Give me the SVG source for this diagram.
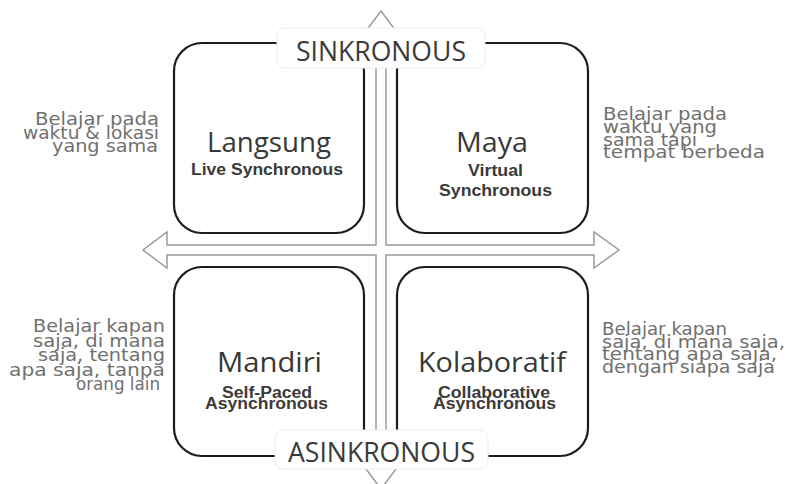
<svg xmlns="http://www.w3.org/2000/svg" width="786" height="484" viewBox="0 0 786 484">
<style>
.box{fill:#fff;stroke:#1c1c1c;stroke-width:2.2}
.lbl{fill:#fff;stroke:#ececec;stroke-width:1}
.axis{font-family:"Open Sans","DejaVu Sans",sans-serif;font-size:28px;fill:#3a3a3a;text-anchor:middle}
.title{font-family:"Open Sans","DejaVu Sans",sans-serif;font-size:28px;fill:#383838;text-anchor:middle}
.sub{font-family:"Liberation Sans",Arial,sans-serif;font-weight:bold;font-size:16px;fill:#3a3a3a;text-anchor:middle}
.side{font-family:"DejaVu Sans","Noto Sans",sans-serif;font-size:18px;fill:#707070}
.r{text-anchor:end}
.l{text-anchor:start}
.arrow{fill:#fff;stroke:#9a9a9a;stroke-width:1.5;stroke-linejoin:miter}
</style>
<rect width="786" height="484" fill="#fff"/>
<g id="connectors">
<path class="arrow" d="M381,11 L399,35 L386,35 L386,245 L594,245 L594,232 L619,250 L594,268 L594,255 L386,255 L386,465 L399,465 L381,489 L363,465 L376,465 L376,255 L167,255 L167,268 L143,250 L167,232 L167,245 L376,245 L376,35 L363,35 Z"/>
</g>
<g id="node-langsung">
<rect class="box" x="174" y="43" width="190" height="190" rx="28"/>
<text class="title" x="269" y="152" textLength="124" lengthAdjust="spacingAndGlyphs">Langsung</text>
<text class="sub" x="267" y="175" textLength="152" lengthAdjust="spacingAndGlyphs">Live Synchronous</text>
</g>
<g id="node-maya">
<rect class="box" x="397" y="43" width="191" height="190" rx="28"/>
<text class="title" x="492" y="152" textLength="72" lengthAdjust="spacingAndGlyphs">Maya</text>
<text class="sub" x="495.5" y="176" textLength="55" lengthAdjust="spacingAndGlyphs">Virtual</text>
<text class="sub" x="495.5" y="196" textLength="113" lengthAdjust="spacingAndGlyphs">Synchronous</text>
</g>
<g id="node-mandiri">
<rect class="box" x="174" y="267" width="190" height="189" rx="28"/>
<text class="title" x="269.5" y="372" textLength="105" lengthAdjust="spacingAndGlyphs">Mandiri</text>
<text class="sub" x="267" y="398" textLength="90" lengthAdjust="spacingAndGlyphs">Self-Paced</text>
<text class="sub" x="266.5" y="409" textLength="123" lengthAdjust="spacingAndGlyphs">Asynchronous</text>
</g>
<g id="node-kolaboratif">
<rect class="box" x="397" y="267" width="191" height="189" rx="28"/>
<text class="title" x="492" y="372" textLength="148" lengthAdjust="spacingAndGlyphs">Kolaboratif</text>
<text class="sub" x="494" y="398" textLength="112" lengthAdjust="spacingAndGlyphs">Collaborative</text>
<text class="sub" x="494.5" y="409" textLength="123" lengthAdjust="spacingAndGlyphs">Asynchronous</text>
</g>
<g id="label-sinkronous">
<rect class="lbl" x="277" y="28" width="208" height="40" rx="8"/>
<text class="axis" x="381" y="61" textLength="170" lengthAdjust="spacingAndGlyphs">SINKRONOUS</text>
</g>
<g id="label-asinkronous">
<rect class="lbl" x="275" y="430" width="213" height="39" rx="8"/>
<text class="axis" x="381.5" y="462" textLength="187" lengthAdjust="spacingAndGlyphs">ASINKRONOUS</text>
</g>
<g id="note-langsung">
<text class="side r" x="159" y="125" textLength="124" lengthAdjust="spacingAndGlyphs">Belajar pada</text>
<text class="side r" x="159" y="138.5" textLength="136" lengthAdjust="spacingAndGlyphs">waktu &amp; lokasi</text>
<text class="side r" x="158" y="152" textLength="106" lengthAdjust="spacingAndGlyphs">yang sama</text>
</g>
<g id="note-maya">
<text class="side l" x="603" y="120" textLength="124" lengthAdjust="spacingAndGlyphs">Belajar pada</text>
<text class="side l" x="603" y="133" textLength="114" lengthAdjust="spacingAndGlyphs">waktu yang</text>
<text class="side l" x="603" y="145.5" textLength="94" lengthAdjust="spacingAndGlyphs">sama tapi</text>
<text class="side l" x="603" y="158" textLength="162" lengthAdjust="spacingAndGlyphs">tempat berbeda</text>
</g>
<g id="note-mandiri">
<text class="side r" x="165" y="332" textLength="132" lengthAdjust="spacingAndGlyphs">Belajar kapan</text>
<text class="side r" x="165" y="346.5" textLength="132" lengthAdjust="spacingAndGlyphs">saja, di mana</text>
<text class="side r" x="165" y="361" textLength="127" lengthAdjust="spacingAndGlyphs">saja, tentang</text>
<text class="side r" x="165" y="375.5" textLength="156" lengthAdjust="spacingAndGlyphs">apa saja, tanpa</text>
<text class="side r" x="160" y="390" textLength="84" lengthAdjust="spacingAndGlyphs">orang lain</text>
</g>
<g id="note-kolaboratif">
<text class="side l" x="602" y="335" textLength="125" lengthAdjust="spacingAndGlyphs">Belajar kapan</text>
<text class="side l" x="602" y="348" textLength="183" lengthAdjust="spacingAndGlyphs">saja, di mana saja,</text>
<text class="side l" x="602" y="360" textLength="175" lengthAdjust="spacingAndGlyphs">tentang apa saja,</text>
<text class="side l" x="602" y="372.5" textLength="173" lengthAdjust="spacingAndGlyphs">dengan siapa saja</text>
</g>
</svg>
